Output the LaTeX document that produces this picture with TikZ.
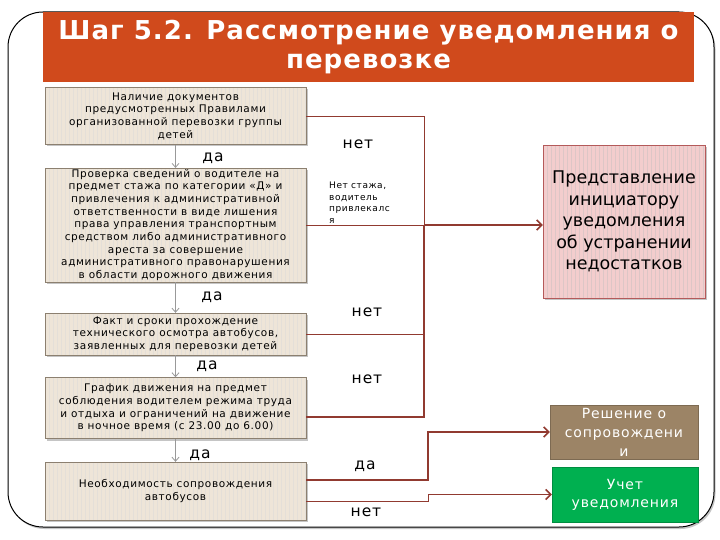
\documentclass[tikz,border=0pt]{standalone}
\usepackage{fontspec}
\setmainfont{DejaVu Sans}
\newfontfamily\spaced[LetterSpace=6]{DejaVu Sans}
\newfontfamily\titlefont[LetterSpace=4]{DejaVu Sans}
\usetikzlibrary{arrows.meta,shadows}
\definecolor{titlered}{RGB}{208,74,28}
\definecolor{beige}{RGB}{238,229,216}
\definecolor{beigeline}{RGB}{140,128,112}
\definecolor{pinkfill}{RGB}{243,205,205}
\definecolor{pinkline}{RGB}{180,90,90}
\definecolor{brownfill}{RGB}{156,132,102}
\definecolor{greenfill}{RGB}{0,176,80}
\definecolor{linered}{RGB}{145,58,48}

\begin{document}
\begin{tikzpicture}[x=1pt,y=-1pt,
    stripes/.style={path picture={\foreach \i in {0,4,...,300}
        \draw[#1,line width=0.4pt] ([xshift=\i pt]path picture bounding box.south west) -- ([xshift=\i pt]path picture bounding box.north west);}},
    shade/.style={drop shadow={shadow xshift=1.5pt,shadow yshift=-2pt,fill=black!45}},
    box/.style={draw=beigeline, fill=beige, stripes=beige!88!black!60, shade, minimum width=261, minimum height=#1, inner sep=1pt, align=center, font={\spaced\fontsize{10.5}{12.7}\selectfont}},
    lbl/.style={font={\spaced\fontsize{15.5}{18}\selectfont}},
    flow/.style={draw=black!40, line width=0.8pt, -{Straight Barb[length=4pt,width=7pt]}},
    thinline/.style={draw=linered, line width=0.8pt},
    thickline/.style={draw=linered, line width=2.6pt},
    tip/.style={-{Straight Barb[length=5pt,width=10pt,line width=1.5pt]}}]
    \useasboundingbox (0,0) rectangle (720,540);
    % frame and title
    \draw[line width=1pt, fill=white, rounded corners=35, shade] (8,12) rectangle (714,527);
    \node[fill=titlered, minimum width=651, minimum height=70, text=white, align=center, font={\titlefont\bfseries\fontsize{26}{29}\selectfont}] (title) at (368.5,47) {Шаг 5.2. Рассмотрение уведомления о\\перевозке};
    % checks
    \node[box=57] (docs) at (175.5,116) {Наличие документов\\предусмотренных Правилами\\организованной перевозки группы\\детей};
    \node[box=113] (driver) at (175.5,225) {Проверка сведений о водителе на\\предмет стажа по категории «Д» и\\привлечения к административной\\ответственности  в виде лишения\\права управления транспортным\\средством либо административного\\ареста за совершение\\административного правонарушения\\в области дорожного движения};
    \node[box=42] (inspect) at (175.5,334) {Факт и сроки прохождение\\технического осмотра автобусов,\\заявленных для перевозки детей};
    \node[box=61] (schedule) at (175.5,408) {График движения на предмет\\соблюдения водителем режима труда\\и отдыха и ограничений на движение\\в ночное время (с 23.00 до 6.00)};
    \node[box=58] (escort) at (175.5,491) {Необходимость сопровождения\\автобусов};
    % results
    \node[draw=pinkline, fill=pinkfill, stripes=pinkfill!85!black!70, shade, minimum width=162, minimum height=153, align=center, font={\fontsize{17.5}{21.5}\selectfont}] (remark) at (624,221.5) {Представление\\инициатору\\уведомления\\об устранении\\недостатков};
    \node[draw=brownfill!80!black, fill=brownfill, minimum width=148, minimum height=54, inner sep=0pt, text=white, align=center, font={\spaced\fontsize{14}{19}\selectfont}] (decision) at (624,432) {Решение о\\сопровождени\\и};
    \node[draw=greenfill!80!black, fill=greenfill, minimum width=146, minimum height=55, text=white, align=center, font={\spaced\fontsize{14}{18}\selectfont}] (record) at (625,494.5) {Учет\\уведомления};
    % flow down
    \draw[flow] (docs) -- (driver);
    \draw[flow] (driver) -- (inspect);
    \draw[flow] (inspect) -- (schedule);
    \draw[flow] (schedule) -- (escort);
    \node[lbl] (yes1) at (213,158) {да};
    \node[lbl] (yes2) at (212,297) {да};
    \node[lbl] (yes3) at (207,366) {да};
    \node[lbl] (yes4) at (200,455) {да};
    % refusals
    \coordinate (jn) at (424,225);
    \coordinate (jn2) at (424,417);
    \draw[thinline] (docs.east) -| (jn);
    \draw[thinline] (driver.east |- jn) -- (jn);
    \draw[thinline] (inspect.east) -- (inspect.east -| jn);
    \draw[thickline] (jn2 -| schedule.east) -- (jn2) -- (jn);
    \draw[thickline,tip] (jn) -- (jn -| remark.west);
    \node[lbl] (no1) at (358,144) {нет};
    \node[anchor=north west, inner sep=0pt, align=left, font={\spaced\fontsize{9}{11.5}\selectfont}] (note) at (329,182) {Нет стажа,\\водитель\\привлекалс\\я};
    \node[lbl] (no2) at (367,312) {нет};
    \node[lbl] (no3) at (367,379) {нет};
    % escort
    \coordinate (yes) at (428,480);
    \coordinate (no) at (428,501);
    \draw[thickline,tip] (escort.east |- yes) -- (yes) |- (decision.west);
    \draw[thinline,tip] (escort.east |- no) -- (no) |- (record.west);
    \node[lbl] (yes5) at (365,466) {да};
    \node[lbl] (no4) at (366,512) {нет};
\end{tikzpicture}
\end{document}
